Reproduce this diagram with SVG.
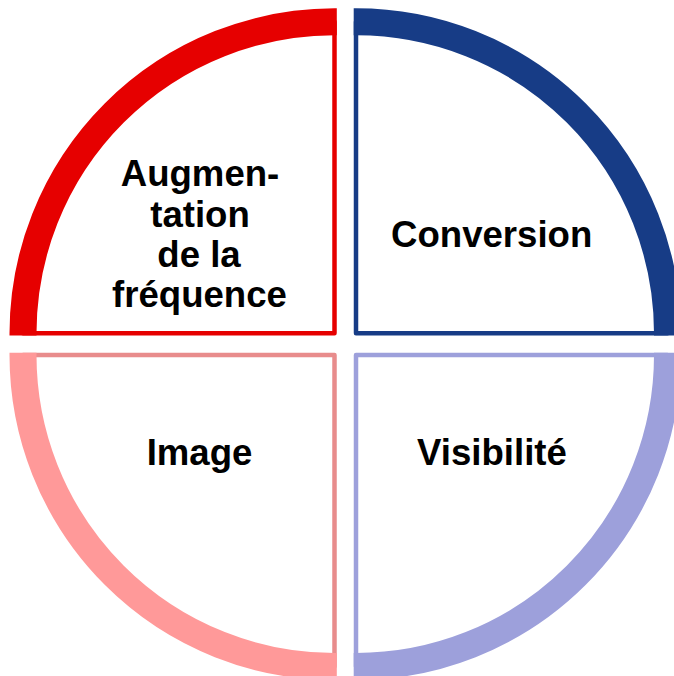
<svg xmlns="http://www.w3.org/2000/svg" width="674" height="676" viewBox="0 0 674 676">
<style>
.pie{fill:#FFFFFF;stroke-width:4.5;stroke-linejoin:round}
.band{fill:none;stroke-width:27;stroke-linecap:butt}
.lbl{font-family:"Liberation Sans",Arial,sans-serif;font-weight:bold;font-size:36.6px;fill:#000000;text-anchor:middle}
</style>
<rect width="674" height="676" fill="#FFFFFF"/>
<g id="augmentation">
<path class="pie" stroke="#E60000" d="M334.5,333.3 L334.5,21.8 A311.5,311.5 0 0 0 23,333.3 Z"/>
<path class="band" stroke="#E60000" d="M23,335.6 L23,333.3 A311.5,311.5 0 0 1 334.5,21.8 L336.8,21.8"/>
<text class="lbl" x="200" y="186">Augmen-</text>
<text class="lbl" x="200" y="226.5">tation</text>
<text class="lbl" x="199" y="266.5">de la</text>
<text class="lbl" x="199.5" y="306.5">fréquence</text>
</g>
<g id="conversion">
<path class="pie" stroke="#173C86" d="M356,333.3 L356,21.8 A311.5,311.5 0 0 1 667.5,333.3 Z"/>
<path class="band" stroke="#173C86" d="M353.7,21.8 L356,21.8 A311.5,311.5 0 0 1 667.5,333.3 L667.5,335.6"/>
<text class="lbl" x="491.7" y="247">Conversion</text>
</g>
<g id="image">
<path class="pie" stroke="#E88C8C" d="M334.5,355 L23,355 A311.5,311.5 0 0 0 334.5,666.5 Z"/>
<path class="band" stroke="#FF9999" d="M23,352.7 L23,355 A311.5,311.5 0 0 0 334.5,666.5 L336.8,666.5"/>
<text class="lbl" x="199.5" y="465">Image</text>
</g>
<g id="visibilite">
<path class="pie" stroke="#9DA0DB" d="M356,355 L667.5,355 A311.5,311.5 0 0 1 356,666.5 Z"/>
<path class="band" stroke="#9DA0DB" d="M667.5,352.7 L667.5,355 A311.5,311.5 0 0 1 356,666.5 L353.7,666.5"/>
<text class="lbl" x="492" y="465">Visibilité</text>
</g>
<g id="connectors"/>
</svg>
